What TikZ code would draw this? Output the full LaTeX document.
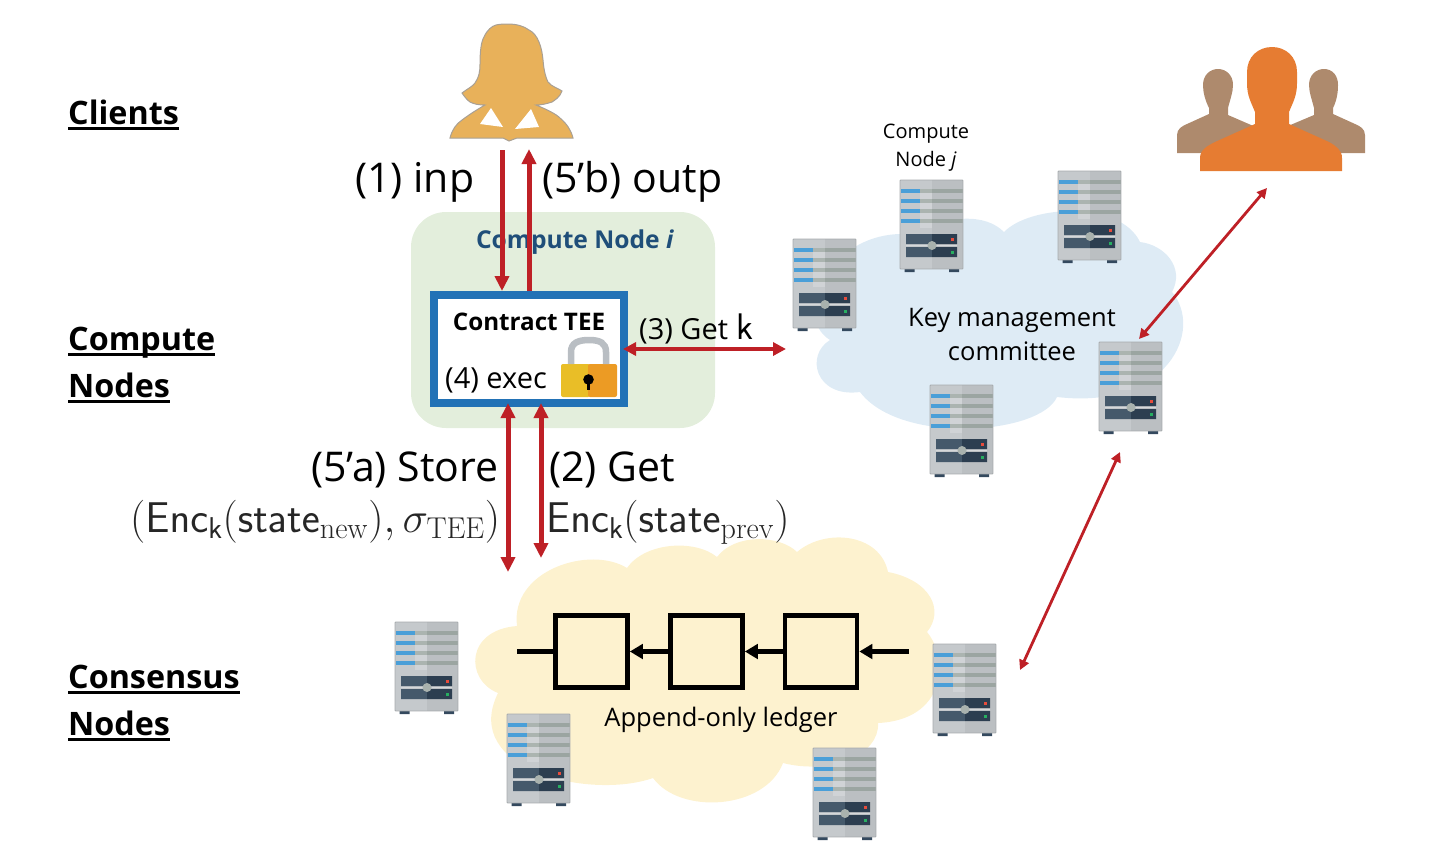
\documentclass[tikz,border=0pt]{standalone}
\usepackage{fix-cm}
\usepackage[no-math]{fontspec}
\setmainfont{Open Sans}
\usetikzlibrary{arrows.meta, positioning, shapes.geometric}
\newcommand{\headline}[1]{\setbox0=\hbox{#1}\rlap{\copy0}\rule[-5.5pt]{\wd0}{2.6pt}}
\newcommand{\fsz}[1]{\fontsize{#1}{#1}\selectfont}
\definecolor{redline}{HTML}{BE2026}
\definecolor{greenbg}{HTML}{E3EEDC}
\definecolor{bluebg}{HTML}{DEEBF5}
\definecolor{yellowbg}{HTML}{FDF2CF}
\definecolor{teeblue}{HTML}{2272B6}
\definecolor{nodeblue}{HTML}{1F4E79}
\tikzset{
  heading/.style={anchor=base west, inner sep=0pt, font=\fsz{32.3}\bfseries},
  biglabel/.style={anchor=base west, inner sep=0pt, font=\fsz{41}},
  midlabel/.style={anchor=base, inner sep=0pt, font=\fsz{25.5}},
  mathlabel/.style={anchor=base west, inner sep=0pt, font=\fsz{43}, text=black!85},
  block/.style={draw=black, line width=4.7pt, minimum width=72pt, minimum height=72pt, inner sep=0pt},
  redarrow/.style={draw=redline, line width=5pt, -{Triangle[length=15pt,width=14pt]}},
  redboth/.style={draw=redline, line width=4pt, {Triangle[length=13pt,width=13pt]}-{Triangle[length=13pt,width=13pt]}},
  redthin/.style={draw=redline, line width=2.8pt, {Triangle[length=10pt,width=10pt]}-{Triangle[length=10pt,width=10pt]}},
  blackarrow/.style={draw=black, line width=4.7pt, -{Triangle[length=13pt,width=14.5pt]}},
  server/.pic={
    \fill[fill={rgb,255:red,52;green,73;blue,94}] (4.5,88) rectangle (14.5,92) (49,88) rectangle (59,92);
    \fill[fill={rgb,255:red,197;green,201;blue,204}] (0,0) rectangle (32,89);
    \fill[fill={rgb,255:red,187;green,191;blue,194}] (32,0) rectangle (63,89);
    \foreach \y in {9,19,29,38.5} {
      \fill[fill={rgb,255:red,171;green,180;blue,176}] (20,\y) rectangle (32,\y+4.3);
      \fill[fill={rgb,255:red,155;green,165;blue,161}] (32,\y) rectangle (63,\y+4.3);
      \fill[fill={rgb,255:red,74;green,159;blue,216}] (0.5,\y) rectangle (20,\y+4.3);
      \fill[fill={rgb,255:red,208;green,211;blue,214}] (20,\y+4.3) rectangle (32,\y+9.5);
    }
    \fill[fill={rgb,255:red,69;green,89;blue,107}] (6,54) rectangle (32,64) (6,67) rectangle (32,77);
    \fill[fill={rgb,255:red,44;green,62;blue,80}] (32,54) rectangle (57,64) (32,67) rectangle (57,77);
    \fill[fill={rgb,255:red,213;green,216;blue,218}] (6,64.7) rectangle (57,66.3);
    \fill[fill={rgb,255:red,169;green,178;blue,174}] (32,65.5) circle (4.5);
    \fill[fill={rgb,255:red,231;green,76;blue,60}] (50.5,57.5) rectangle (54,61);
    \fill[fill={rgb,255:red,39;green,174;blue,96}] (50.5,70.5) rectangle (54,74);
    \draw[draw={rgb,255:red,167;green,171;blue,174}, line width=0.9pt, rounded corners=0.8pt] (0,0) rectangle (63,89);
  }
}
\begin{document}
\begin{tikzpicture}[x=1pt, y=-1pt]
\useasboundingbox (0,0) rectangle (1431,860);
\fill[bluebg] (830,340) .. controls (790,315) and (830,232) .. (905,234) .. controls (950,215) and (985,213) .. (1004,232) .. controls (1030,205) and (1120,200) .. (1140,242) .. controls (1165,245) and (1185,268) .. (1172,292) .. controls (1204,330) and (1168,410) .. (1057,397) .. controls (1040,435) and (900,445) .. (860,392) .. controls (815,398) and (805,355) .. (830,340) -- cycle;
\fill[yellowbg] (517,626) .. controls (510,570) and (590,545) .. (627,568) .. controls (645,542) and (695,539) .. (717,557) .. controls (735,533) and (780,535) .. (797,552) .. controls (825,528) and (880,533) .. (888,572) .. controls (930,580) and (945,610) .. (927,632) .. controls (950,660) and (945,720) .. (878,723) .. controls (880,755) and (830,775) .. (783,763) .. controls (765,810) and (680,815) .. (653,778) .. controls (590,800) and (460,770) .. (498,693) .. controls (465,680) and (465,630) .. (517,626) -- cycle;
\foreach \sname/\sx/\sy in {srva/793/239, srvb/900/180, srvc/1058/171, srvd/1099/342, srve/930/385, srvf/395/622, srvg/507/714, srvh/933/644, srvi/813/748}
  \pic (\sname) at (\sx,\sy) {server};
\filldraw[draw={rgb,255:red,169;green,160;blue,148}, line width=1pt, fill={rgb,255:red,232;green,177;blue,90}] (508,24) .. controls (516,24) and (524,26) .. (529,30) .. controls (538,34) and (542,48) .. (543,60) .. controls (544,72) and (546,78) .. (548,82) .. controls (552,87) and (558,88) .. (562,91) .. controls (560,97) and (555,100) .. (552,102) .. controls (546,104) and (541,105) .. (536,105) .. controls (548,110) and (556,114) .. (560,118) .. controls (567,124) and (571,130) .. (573,138) -- (517,138) -- (509,141) -- (503,138) -- (450,138) .. controls (452,130) and (456,124) .. (462,120) .. controls (470,114) and (478,109) .. (485,105) .. controls (478,105) and (474,104) .. (470,102) .. controls (467,100) and (464,96) .. (462,93) .. controls (467,89) and (472,87) .. (475,83) .. controls (479,77) and (480,72) .. (480,64) .. controls (480,52) and (481,42) .. (484,37) .. controls (487,30) and (492,26) .. (496,25) .. controls (500,24) and (504,24) .. (508,24) -- cycle;
\fill[white] (491,108) -- (503,127) -- (480,124) -- cycle;
\fill[white] (531,109) -- (539,127) -- (515,129) -- cycle;
\fill[fill={rgb,255:red,174;green,138;blue,109}] (1177,153) -- (1177,135) .. controls (1177,129) and (1182,126) .. (1187,124) -- (1209,114) -- (1209,108) .. controls (1205,100) and (1203,92) .. (1203,85) .. controls (1203,75) and (1210,69) .. (1218,69) .. controls (1226,69) and (1233,75) .. (1233,85) .. controls (1233,92) and (1230,100) .. (1228,108) -- (1228,115) -- (1258,128) -- (1258,153) -- cycle;
\fill[fill={rgb,255:red,174;green,138;blue,109}] (1365,153) -- (1365,135) .. controls (1365,129) and (1360,126) .. (1355,124) -- (1333,114) -- (1333,108) .. controls (1337,100) and (1338,92) .. (1338,85) .. controls (1338,75) and (1332,69) .. (1324,69) .. controls (1316,69) and (1309,75) .. (1309,85) .. controls (1309,92) and (1312,100) .. (1314,108) -- (1314,115) -- (1288,126) -- (1288,153) -- cycle;
\fill[fill={rgb,255:red,230;green,124;blue,50}] (1200,171) -- (1200,158) .. controls (1200,150) and (1207,146) .. (1215,142) -- (1255,124) -- (1255,112) .. controls (1251,102) and (1247,96) .. (1247,83) -- (1247,72) .. controls (1247,57) and (1258,47) .. (1272,47) .. controls (1286,47) and (1297,57) .. (1297,72) -- (1297,83) .. controls (1297,96) and (1293,102) .. (1289,112) -- (1289,124) -- (1329,142) .. controls (1336,146) and (1342,150) .. (1342,158) -- (1342,171) -- cycle;
\node [fill=greenbg, rounded corners=35pt, minimum width=304pt, minimum height=216pt] (cnode) at (563,320) {};
\node [midlabel, text=nodeblue, font=\fsz{24.6}\bfseries] (cnodelabel) at (575,248) {Compute Node \textit{i}};
\node [draw=teeblue, fill=white, line width=8pt, minimum width=190pt, minimum height=108pt, inner sep=0pt] (tee) at (529,349) {};
\node [midlabel, font=\fsz{24.2}\bfseries] (teelabel) at (529,330) {Contract TEE};
\node [anchor=base west, inner sep=0pt, font=\fsz{29}] (exec) at (445,388) {(4) exec};
\fill[fill={rgb,255:red,233;green,190;blue,39}, rounded corners=2pt] (561,364) rectangle (590,397);
\fill[fill={rgb,255:red,236;green,155;blue,36}, rounded corners=2pt] (588,364) rectangle (617,397);
\draw[draw={rgb,255:red,185;green,190;blue,195}, line width=6.5pt] (571,364) -- (571,352) .. controls (571,343) and (578,340) .. (589,340) .. controls (600,340) and (606,343) .. (606,352) -- (606,364);
\fill[black] (588.5,379.5) circle (5.3);
\fill[black] (586.8,380) rectangle (590.2,389.5);
\node [biglabel] (inp) at (355,192) {(1) inp};
\node [biglabel] (outp) at (542,192) {(5’b) outp};
\node [biglabel] (store) at (311,481) {(5’a) Store};
\node [biglabel] (getprev) at (549,481) {(2) Get};
\node [mathlabel] (encnew) at (130,532) {$(\mathsf{Enc}_{\mathsf{k}}(\mathsf{state}_{\mathrm{new}}),\sigma_{\mathrm{TEE}})$};
\node [mathlabel] (encprev) at (546,532) {$\mathsf{Enc}_{\mathsf{k}}(\mathsf{state}_{\mathrm{prev}})$};
\node [anchor=base west, inner sep=0pt, font=\fsz{29}] (getk) at (639,339) {(3) Get\hspace{8pt}{\fsz{37}$\mathsf{k}$}};
\node [midlabel] (keytop) at (1012,326) {Key management};
\node [midlabel] (keybot) at (1012,360) {committee};
\node [midlabel, font=\fsz{20}] (nodej) at (926,138) {Compute};
\node [midlabel, font=\fsz{20}] (nodejb) at (926,166) {Node \textit{j}};
\node [midlabel] (ledger) at (721,726) {Append-only ledger};
\node [heading] (Clients) at (68,124) {\headline{Clients}};
\node [heading] (Compute) at (68,350) {\headline{Compute}};
\node [heading] (ComputeB) at (68,397) {\headline{Nodes}};
\node [heading] (Consensus) at (68,688) {\headline{Consensus}};
\node [heading] (ConsensusB) at (68,735) {\headline{Nodes}};
\node [block] (blk1) at (591.5,651.5) {};
\node [block] (blk2) at (706.5,651.5) {};
\node [block] (blk3) at (821,651.5) {};
\coordinate (chainend) at (517,651.5);
\coordinate (chainstart) at (909,651.5);
\draw[draw=black, line width=4.7pt] (blk1) -- (chainend);
\draw[blackarrow] (blk2) -- (blk1);
\draw[blackarrow] (blk3) -- (blk2);
\draw[blackarrow] (chainstart) -- (blk3);
\coordinate (inpend) at (502,150);
\coordinate (outpend) at (529,149);
\coordinate (storeend) at (508,572);
\coordinate (getend) at (541,558);
\coordinate (keyend) at (786,349);
\coordinate (teekey) at (623,349);
\coordinate (teestore) at (508,403);
\coordinate (teeget) at (541,403);
\coordinate (srvdtop) at (1139,339);
\coordinate (groupend) at (1267,188);
\coordinate (srvdbot) at (1120,452);
\coordinate (srvhend) at (1020,670);
\draw[redarrow] (inpend) -- (inpend |- tee.north);
\draw[redarrow] (outpend |- tee.north) -- (outpend);
\draw[redboth] (teekey) -- (keyend);
\draw[redarrow, {Triangle[length=15pt,width=14pt]}-{Triangle[length=15pt,width=14pt]}] (teestore) -- (storeend);
\draw[redarrow, {Triangle[length=15pt,width=14pt]}-{Triangle[length=15pt,width=14pt]}] (teeget) -- (getend);
\draw[redthin] (srvdtop) -- (groupend);
\draw[redthin] (srvdbot) -- (srvhend);
\end{tikzpicture}
\end{document}
